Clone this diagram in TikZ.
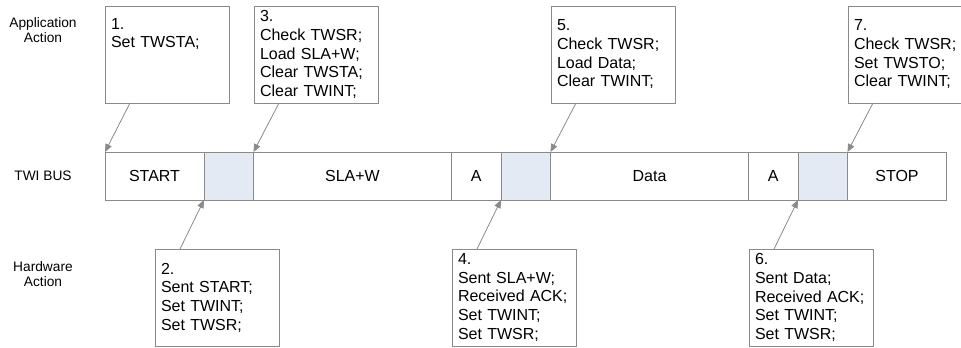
\documentclass[tikz,border=0pt]{standalone}
\usepackage{fontspec}
\setmainfont{Liberation Sans}
\usetikzlibrary{arrows.meta,positioning}
\definecolor{line}{HTML}{8A8A8A}
\definecolor{slot}{HTML}{E4EAF4}

\begin{document}
\begin{tikzpicture}[x=.75pt, y=-.75pt,
  font=\fontsize{12pt}{14pt}\selectfont,
  seg/.style={draw=line, line width=.75pt, minimum width=#1*.75pt, minimum height=36pt,
    inner sep=0pt, outer sep=0pt},
  slotseg/.style={seg=#1, fill=slot},
  actbox/.style={draw=line, line width=.75pt, anchor=north west, align=left,
    text width=84pt, inner xsep=4.5pt, minimum height=72.75pt, outer sep=0pt},
  rowlabel/.style={align=center, font=\fontsize{10.3pt}{11.3pt}\selectfont},
  conn/.style={draw=line, line width=.6pt, -{Triangle[length=6pt, width=5pt]}}]
  \clip (0,0) rectangle (961,347);

  % row labels
  \node[rowlabel] (lapp) at (43,30) {Application\\Action};
  \node[rowlabel] (lbus) at (43,176) {TWI BUS};
  \node[rowlabel] (lhw) at (43,274) {Hardware\\Action};

  % TWI bus
  \node[seg=99, anchor=north west] (start) at (105,152) {START};
  \node[slotseg=49.5, right=0pt of start] (g1) {};
  \node[seg=198, right=0pt of g1] (sla) {SLA+W};
  \node[seg=49.5, right=0pt of sla] (ack1) {A};
  \node[slotseg=49.5, right=0pt of ack1] (g2) {};
  \node[seg=198, right=0pt of g2] (data) {Data};
  \node[seg=49.5, right=0pt of data] (ack2) {A};
  \node[slotseg=49.5, right=0pt of ack2] (g3) {};
  \node[seg=99, right=0pt of g3] (stop) {STOP};

  % application actions
  \node[actbox] (a1) at (105,6) {1.\\Set TWSTA;\\\strut\\\strut};
  \node[actbox] (a3) at (254,6) {3.\\Check TWSR;\\Load SLA+W;\\Clear TWSTA;\\Clear TWINT;};
  \node[actbox] (a5) at (551,6) {5.\\Check TWSR;\\Load Data;\\Clear TWINT;};
  \node[actbox] (a7) at (848,6) {7.\\Check TWSR;\\Set TWSTO;\\Clear TWINT;};

  % hardware actions
  \node[actbox] (h2) at (155,249) {2.\\Sent START;\\Set TWINT;\\Set TWSR;};
  \node[actbox] (h4) at (452,249) {4.\\Sent SLA+W;\\Received ACK;\\Set TWINT;\\Set TWSR;};
  \node[actbox] (h6) at (749,249) {6.\\Sent Data;\\Received ACK;\\Set TWINT;\\Set TWSR;};

  \draw[conn] ([xshift=18.75pt]a1.south west) -- (start.north west);
  \draw[conn] ([xshift=18.75pt]a3.south west) -- (sla.north west);
  \draw[conn] ([xshift=18.75pt]a5.south west) -- (data.north west);
  \draw[conn] ([xshift=18.75pt]a7.south west) -- (stop.north west);
  \draw[conn] ([xshift=18.75pt]h2.north west) -- (g1.south west);
  \draw[conn] ([xshift=18.75pt]h4.north west) -- (g2.south west);
  \draw[conn] ([xshift=18.75pt]h6.north west) -- (g3.south west);
\end{tikzpicture}
\end{document}
